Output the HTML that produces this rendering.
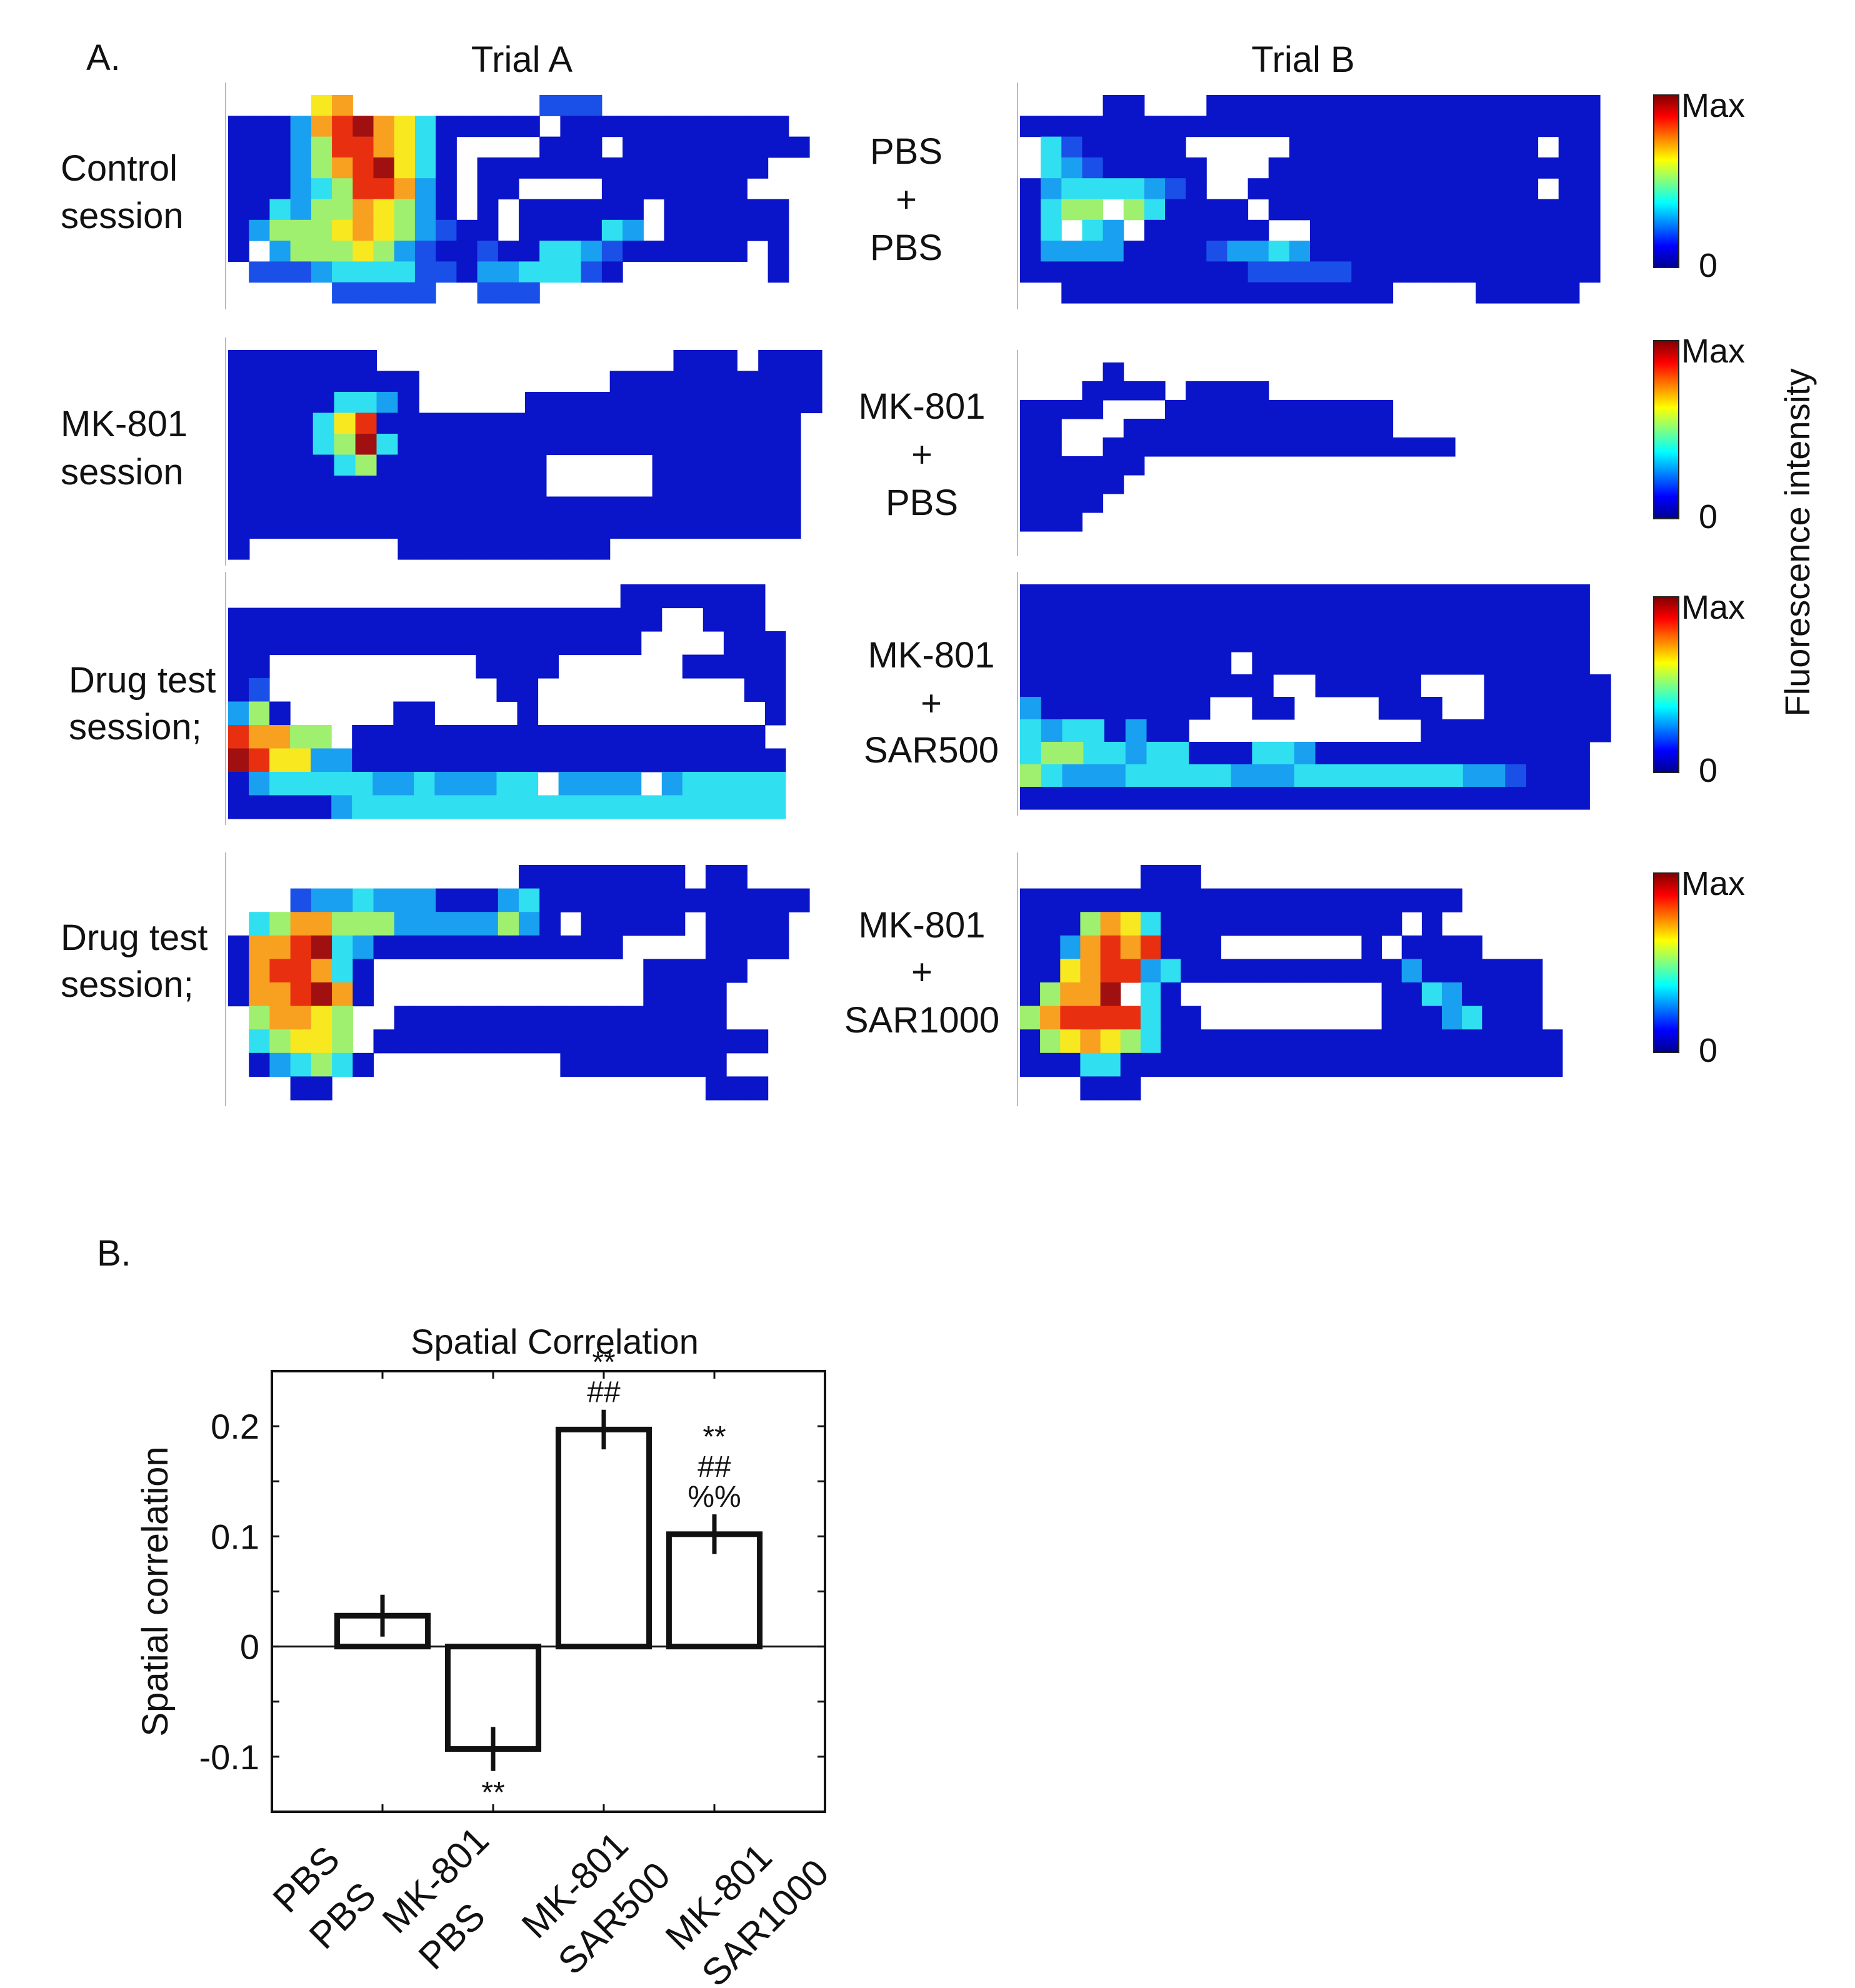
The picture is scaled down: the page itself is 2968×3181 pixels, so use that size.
<!DOCTYPE html>
<html><head><meta charset="utf-8"><style>
html,body{margin:0;padding:0;background:#fff}
svg{display:block}
text{font-family:"Liberation Sans",Arial,sans-serif;fill:#111}
</style></head><body>
<svg id="fig" width="2968" height="3181" viewBox="0 0 2968 3181" xmlns="http://www.w3.org/2000/svg">
<defs>
<linearGradient id="jet" x1="0" y1="1" x2="0" y2="0">
<stop offset="0" stop-color="#00008f"/><stop offset="0.125" stop-color="#0000ff"/><stop offset="0.375" stop-color="#00ffff"/><stop offset="0.625" stop-color="#ffff00"/><stop offset="0.875" stop-color="#ff0000"/><stop offset="1" stop-color="#800000"/>
</linearGradient>
</defs>
<text x="138" y="112" font-size="58">A.</text>
<text x="835" y="115" font-size="58" text-anchor="middle">Trial A</text>
<text x="2085" y="115" font-size="58" text-anchor="middle">Trial B</text>
<g id="maps"></g>
<g id="labels"></g>
<text transform="translate(2895,868) rotate(-90)" font-size="56" text-anchor="middle">Fluorescence intensity</text>
<text x="155" y="2025" font-size="58">B.</text>
<g id="bar"></g>
</svg>
<script>
const NS='http://www.w3.org/2000/svg';
function mk(tag,attrs,parent){const e=document.createElementNS(NS,tag);for(const k in attrs)e.setAttribute(k,attrs[k]);parent.appendChild(e);return e;}
const colors={b:'#0a14c8',B:'#1a50e8',c:'#1aa0f0',C:'#30e0f0',g:'#a0f070',y:'#f8e820',o:'#f8a020',r:'#e83010',d:'#a01010'};
const maps=[
{x:365,y:152,w:930,h:333,rows:[
"....yo.........BBB..........",
"bbbcordoyCbbbbb.bbbbbbbbbbb.",
"bbbcgrroyCb....bbb.bbbbbbbbb",
"bbbcgordyCb.bbbbbbbbbbbbbb..",
"bbbcCgrrocb.bb....bbbbbbb...",
"bbCcggoygcb.b.bbbbbb.bbbbbb.",
"bcgggyoygcBbb.bbbbCc.bbbbbb.",
"b.cgggygcBbbBbbCCcBbbbbbb.b.",
".BBBcCCCCBBbccCCCBb.......b.",
".....BBBBB..BBB............."]},
{x:1632,y:152,w:928,h:333,rows:[
"....bb...bbbbbbbbbbbbbbbbbbb",
"bbbbbbbbbbbbbbbbbbbbbbbbbbbb",
".CBbbbbb.....bbbbbbbbbbbb.bb",
".CcBbbbbb...bbbbbbbbbbbbbbbb",
"bcCCCCcBb..bbbbbbbbbbbbbb.bb",
"bCgg.gCbbbb.bbbbbbbbbbbbbbbb",
"bC.Cc.bbbbbb..bbbbbbbbbbbbbb",
"bccccbbbbBccCcbbbbbbbbbbbbbb",
"bbbbbbbbbbbBBBBBbbbbbbbbbbbb",
"..bbbbbbbbbbbbbbbb....bbbbb."]},
{x:365,y:560,w:950,h:335,rows:[
"bbbbbbb..............bbb.bbb",
"bbbbbbbbb.........bbbbbbbbbb",
"bbbbbCCcb.....bbbbbbbbbbbbbb",
"bbbbCyrbbbbbbbbbbbbbbbbbbbb.",
"bbbbCgdCbbbbbbbbbbbbbbbbbbb.",
"bbbbbCgbbbbbbbb.....bbbbbbb.",
"bbbbbbbbbbbbbbb.....bbbbbbb.",
"bbbbbbbbbbbbbbbbbbbbbbbbbbb.",
"bbbbbbbbbbbbbbbbbbbbbbbbbbb.",
"b.......bbbbbbbbbb.........."]},
{x:1632,y:580,w:928,h:300,rows:[
"....b.......................",
"...bbbb.bbbb................",
"bbbb...bbbbbbbbbbb..........",
"bb...bbbbbbbbbbbbb..........",
"bb..bbbbbbbbbbbbbbbbb.......",
"bbbbbb......................",
"bbbbb.......................",
"bbbb........................",
"bbb.........................",
"............................"]},
{x:365,y:935,w:925,h:375,rows:[
"...................bbbbbbb..",
"bbbbbbbbbbbbbbbbbbbbb..bbb..",
"bbbbbbbbbbbbbbbbbbbb....bbb.",
"bb..........bbbb......bbbbb.",
"bB...........bb..........bb.",
"cgb.....bb....b...........b.",
"roogg.bbbbbbbbbbbbbbbbbbbb..",
"dryyccbbbbbbbbbbbbbbbbbbbbb.",
"bcCCCCCccCcccCC.cccc.cCCCCC.",
"bbbbbcCCCCCCCCCCCCCCCCCCCCC."]},
{x:1632,y:935,w:945,h:360,rows:[
"bbbbbbbbbbbbbbbbbbbbbbbbbbb.",
"bbbbbbbbbbbbbbbbbbbbbbbbbbb.",
"bbbbbbbbbbbbbbbbbbbbbbbbbbb.",
"bbbbbbbbbb.bbbbbbbbbbbbbbbb.",
"bbbbbbbbbbbb..bbbbb...bbbbbb",
"cbbbbbbbb..bb....bbb..bbbbbb",
"CcCCbcbb...........bbbbbbbbb",
"CggCCcCCbbbCCcbbbbbbbbbbbbb.",
"gCcccCCCCCcccCCCCCCCCccBbbb.",
"bbbbbbbbbbbbbbbbbbbbbbbbbbb."]},
{x:365,y:1384,w:930,h:376,rows:[
"..............bbbbbbbb.bb...",
"...BccCcccbbbcCbbbbbbbbbbbbb",
".Cgoogggcccccgcb.bbbbb.bbbb.",
"boordCcbbbbbbbbbbbb....bbbb.",
"borroCb.............bbbbb...",
"boordob.............bbbb....",
".gooyg..bbbbbbbbbbbbbbbb....",
".Cgyyg.bbbbbbbbbbbbbbbbbbb..",
".bcCgCb.........bbbbbbbb....",
"...bb..................bbb.."]},
{x:1632,y:1384,w:900,h:376,rows:[
"......bbb...................",
"bbbbbbbbbbbbbbbbbbbbbb......",
"bbbgoyCbbbbbbbbbbbb.b.......",
"bbcororbbb.......b.bbbb.....",
"bbyorrcCbbbbbbbbbbbcbbbbbb..",
"bgood.Cb..........bbCcbbbb..",
"gorrrrCbb.........bbbcCbbb..",
"bgyoygCbbbbbbbbbbbbbbbbbbbb.",
"bbbCCbbbbbbbbbbbbbbbbbbbbbb.",
"...bbb......................"]}
];
const mg=document.getElementById('maps');
maps.forEach((m,mi)=>{
  const g=mk('g',{},mg);
  
  
  const nr=m.rows.length,nc=m.rows[0].length,cw=m.w/nc,ch=m.h/nr;
  m.rows.forEach((row,r)=>{for(let c=0;c<nc;c++){const k=row[c];if(k==='.')continue;
    mk('rect',{x:(m.x+c*cw).toFixed(1),y:(m.y+r*ch).toFixed(1),width:(cw+0.6).toFixed(1),height:(ch+0.6).toFixed(1),fill:colors[k]},g);}});
  mk('line',{x1:m.x-4,y1:m.y-20,x2:m.x-4,y2:m.y+m.h+10,stroke:'#bbb','stroke-width':2},g);
});
const cbs=[[152,428],[545,830],[955,1236],[1397,1684]];
cbs.forEach((cb,i)=>{
  const r=mk('rect',{x:2646,y:cb[0],width:40,height:cb[1]-cb[0],fill:'url(#jet)',stroke:'#222','stroke-width':2},mg);
  
  
  const t1=mk('text',{x:2690,y:cb[0]+35,'font-size':54},mg);t1.textContent='Max';
  
  
  const t0=mk('text',{x:2718,y:cb[1]+15,'font-size':54},mg);t0.textContent='0';
  
  
});
const lg=document.getElementById('labels');
const left=[[97,289,'Control'],[97,365,'session'],[97,698,'MK-801'],[97,775,'session'],[110,1108,'Drug test'],[110,1183,'session;'],[97,1520,'Drug test'],[97,1595,'session;']];
left.forEach(l=>{const t=mk('text',{x:l[0],y:l[1],'font-size':58},lg);t.textContent=l[2];
  
  });
const mid=[[1450,262,'PBS'],[1450,339,'+'],[1450,416,'PBS'],[1475,670,'MK-801'],[1475,747,'+'],[1475,824,'PBS'],[1490,1068,'MK-801'],[1490,1145,'+'],[1490,1220,'SAR500'],[1475,1500,'MK-801'],[1475,1575,'+'],[1475,1652,'SAR1000']];
mid.forEach(l=>{const t=mk('text',{x:l[0],y:l[1],'font-size':58,'text-anchor':'middle'},lg);t.textContent=l[2];
  
  });
</script>
<script>
const categories=[['PBS','PBS'],['MK-801','PBS'],['MK-801','SAR500'],['MK-801','SAR1000']];
const values=[0.028,-0.093,0.197,0.102];
const errors=[0.019,0.02,0.018,0.018];
const sigMarks=[[],['**'],['**','##'],['**','##','%%']];
const yTicks=[-0.1,0,0.1,0.2];
const yTickLabels=['-0.1','0','0.1','0.2'];
const yMinorTicks=[-0.05,0.05,0.15];
(function(){
const g=document.getElementById('bar');
const L=435,R=1320,T=2194,B=2899,ymin=-0.15,ymax=0.25,xmin=0,xmax=5;
const X=v=>L+(v-xmin)/(xmax-xmin)*(R-L);
const Y=v=>B-(v-ymin)/(ymax-ymin)*(B-T);
// label block start offsets (layout, hand-placed in original figure)
const labelStart=[[-150,165],[-152,198],[-106,206],[-53,225]];
const title=mk('text',{x:(L+R)/2+10,y:T-28,'font-size':56,'text-anchor':'middle'},g);title.textContent='Spatial Correlation';


const yl=mk('text',{transform:`translate(268,${(T+B)/2}) rotate(-90)`,'font-size':58,'text-anchor':'middle'},g);yl.textContent='Spatial correlation';


const ax=mk('rect',{x:L,y:T,width:R-L,height:B-T,fill:'none',stroke:'#111','stroke-width':4},g);


yTicks.concat(yMinorTicks).forEach(v=>{mk('line',{x1:L,x2:L+12,y1:Y(v),y2:Y(v),stroke:'#111','stroke-width':3},g);mk('line',{x1:R,x2:R-12,y1:Y(v),y2:Y(v),stroke:'#111','stroke-width':3},g);});
yTicks.forEach((v,i)=>{const t=mk('text',{x:L-20,y:Y(v)+20,'font-size':56,'text-anchor':'end'},g);t.textContent=yTickLabels[i];
  
  });
const zl=mk('line',{x1:L,x2:R,y1:Y(0),y2:Y(0),stroke:'#111','stroke-width':3},g);


const bw=0.82;
values.forEach((v,i)=>{
  const c=i+1,x0=X(c-bw/2),x1=X(c+bw/2);
  mk('line',{x1:X(c),x2:X(c),y1:B,y2:B-12,stroke:'#111','stroke-width':3},g);
  mk('line',{x1:X(c),x2:X(c),y1:T,y2:T+12,stroke:'#111','stroke-width':3},g);
  const r=mk('rect',{x:x0,y:Math.min(Y(v),Y(0)),width:x1-x0,height:Math.abs(Y(v)-Y(0)),fill:'none',stroke:'#111','stroke-width':9},g);
  
  
  const e=mk('line',{x1:X(c),x2:X(c),y1:Y(v-errors[i]),y2:Y(v+errors[i]),stroke:'#111','stroke-width':7},g);
  
  
  const m=sigMarks[i];
  m.forEach((s,j)=>{
    let yy;
    if(v<0) yy=Y(v-errors[i])+50+j*40; else yy=Y(v+errors[i])-12-(m.length-1-j)*48;
    const t=mk('text',{x:X(c),y:yy,'font-size':48,'text-anchor':'middle'},g);t.textContent=s;
    
    
  });
  const ls=labelStart[i];
  const t=mk('text',{transform:`translate(${X(c)+ls[0]},${B+ls[1]}) rotate(-45)`,'font-size':60,'text-anchor':'start'},g);
  const a=mk('tspan',{x:0,y:0},t);a.textContent=categories[i][0];
  const b=mk('tspan',{x:0,y:82},t);b.textContent=categories[i][1];
  
  
});
})();
</script>
</body></html>
